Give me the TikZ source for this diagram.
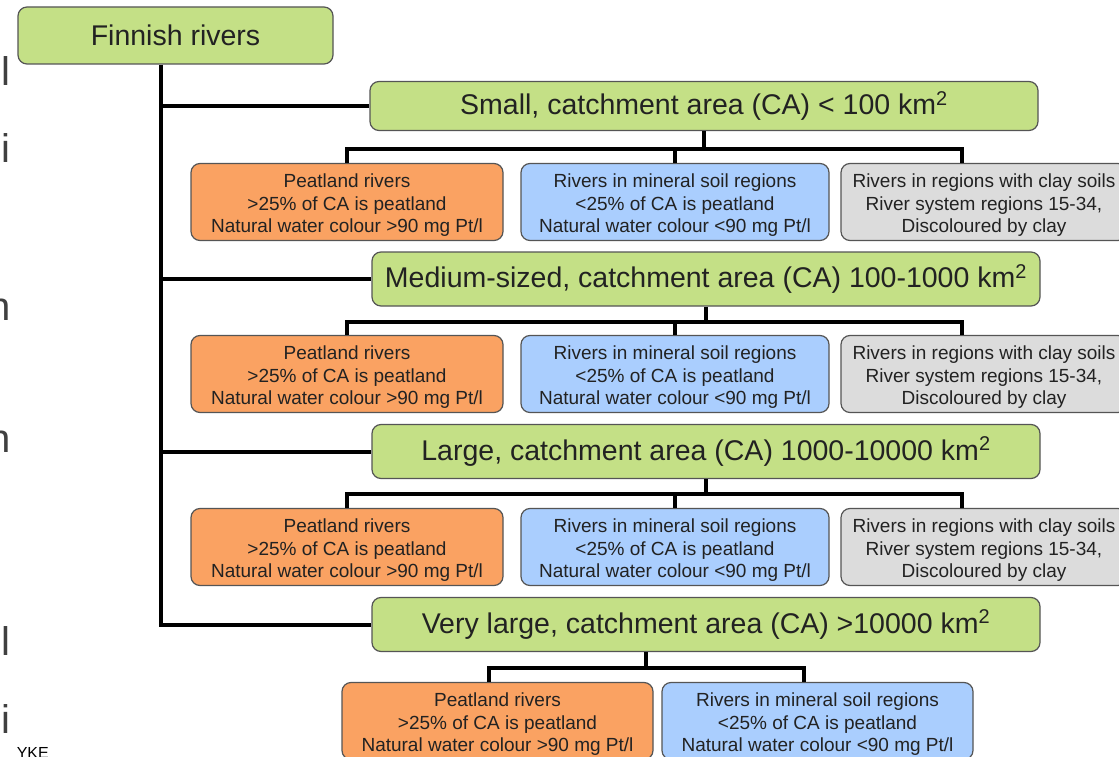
\documentclass[tikz,border=0pt]{standalone}
\usepackage{fontspec}
\setmainfont{Liberation Sans}
\definecolor{cgreen}{RGB}{196,224,134}
\definecolor{corange}{RGB}{250,162,98}
\definecolor{cblue}{RGB}{170,206,254}
\definecolor{cgray}{RGB}{220,220,220}
\definecolor{edge}{RGB}{85,85,85}
\definecolor{txt}{RGB}{34,34,34}
\definecolor{frag}{RGB}{64,64,64}
\newcommand{\tstrut}{\rule{0pt}{20.5pt}}
\begin{document}
\begin{tikzpicture}[x=1pt,y=-1pt,
  box/.style={draw=edge, line width=1.2pt, rounded corners=9pt, align=center, inner sep=0pt, text=txt},
  cat/.style={box, fill=cgreen, minimum width=668pt, minimum height=54pt, font=\fontsize{28.5}{33}\selectfont},
  leaf/.style={box, minimum height=77pt, font=\fontsize{19}{22.5}\selectfont},
  peat/.style={leaf, fill=corange, minimum width=312pt},
  mineral/.style={leaf, fill=cblue, minimum width=308pt},
  clay/.style={leaf, fill=cgray, minimum width=286pt},
  conn/.style={line width=4pt, line join=miter, draw=black},
  fragtext/.style={text=frag, inner sep=0pt, anchor=base east, font=\fontsize{40}{44}\selectfont}]
\useasboundingbox[fill=white] (0,0) rectangle (1119,757);

% left-edge fragments of slide text
\node[fragtext] (f1) at (11,86) {l};
\node[fragtext] (f2) at (11,163) {i};
\node[fragtext] (f3) at (11,320) {n};
\node[fragtext] (f4) at (11,452) {n};
\node[fragtext] (f5) at (11,655) {l};
\node[fragtext] (f6) at (11,733) {i};
\node[inner sep=0pt, anchor=base east, text=black, font=\fontsize{16}{18}\selectfont] (f7) at (49,758) {YKE};

% root
\node[box, fill=cgreen, minimum width=315pt, minimum height=57pt, font=\fontsize{28.5}{33}\selectfont] (root) at (175.5,35.5) {Finnish rivers};
\coordinate (tr) at (161,0);

% categories
\node[cat, minimum height=49pt] (small) at (704,106) {Small, catchment area (CA) < 100 km\textsuperscript{2}};
\node[cat] (medium) at (706,279) {Medium-sized, catchment area (CA) 100-1000 km\textsuperscript{2}};
\node[cat] (large) at (706,451.5) {Large, catchment area (CA) 1000-10000 km\textsuperscript{2}};
\node[cat] (vlarge) at (706,624.5) {Very large, catchment area (CA) >10000 km\textsuperscript{2}};

% leaves row 1
\node[peat] (o1) at (347,202) {\tstrut Peatland rivers\\>25\% of CA is peatland\\Natural water colour >90 mg Pt/l};
\node[mineral] (m1) at (675,202) {\tstrut Rivers in mineral soil regions\\<25\% of CA is peatland\\Natural water colour <90 mg Pt/l};
\node[clay] (c1) at (984,202) {\tstrut Rivers in regions with clay soils\\River system regions 15-34,\\Discoloured by clay};
% row 2
\node[peat] (o2) at (347,374) {\tstrut Peatland rivers\\>25\% of CA is peatland\\Natural water colour >90 mg Pt/l};
\node[mineral] (m2) at (675,374) {\tstrut Rivers in mineral soil regions\\<25\% of CA is peatland\\Natural water colour <90 mg Pt/l};
\node[clay] (c2) at (984,374) {\tstrut Rivers in regions with clay soils\\River system regions 15-34,\\Discoloured by clay};
% row 3
\node[peat] (o3) at (347,547) {\tstrut Peatland rivers\\>25\% of CA is peatland\\Natural water colour >90 mg Pt/l};
\node[mineral] (m3) at (675,547) {\tstrut Rivers in mineral soil regions\\<25\% of CA is peatland\\Natural water colour <90 mg Pt/l};
\node[clay] (c3) at (984,547) {\tstrut Rivers in regions with clay soils\\River system regions 15-34,\\Discoloured by clay};
% row 4
\node[peat, minimum width=311pt] (o4) at (497.5,721) {\tstrut Peatland rivers\\>25\% of CA is peatland\\Natural water colour >90 mg Pt/l};
\node[mineral, minimum width=311pt] (m4) at (817.5,721) {\tstrut Rivers in mineral soil regions\\<25\% of CA is peatland\\Natural water colour <90 mg Pt/l};

% trunk and branches
\draw[conn] (root.south -| tr) |- (vlarge.west);
\draw[conn] (small.west -| tr) -- (small.west);
\draw[conn] (medium.west -| tr) -- (medium.west);
\draw[conn] (large.west -| tr) -- (large.west);

% buses
\coordinate (b1) at (704,149);
\coordinate (b2) at (706,322);
\coordinate (b3) at (706,494);
\coordinate (b4) at (646,668);
\coordinate (cx) at (962,0);

\draw[conn] (small.south) -- (b1);
\draw[conn] (o1.north) |- (b1) -| (c1.north -| cx);
\draw[conn] (b1 -| m1.north) -- (m1.north);

\draw[conn] (medium.south) -- (b2);
\draw[conn] (o2.north) |- (b2) -| (c2.north -| cx);
\draw[conn] (b2 -| m2.north) -- (m2.north);

\draw[conn] (large.south) -- (b3);
\draw[conn] (o3.north) |- (b3) -| (c3.north -| cx);
\draw[conn] (b3 -| m3.north) -- (m3.north);

\draw[conn] (vlarge.south -| b4) -- (b4);
\draw[conn] ([xshift=-8.5pt]o4.north) |- (b4) -| ([xshift=-13.5pt]m4.north);
\end{tikzpicture}
\end{document}
